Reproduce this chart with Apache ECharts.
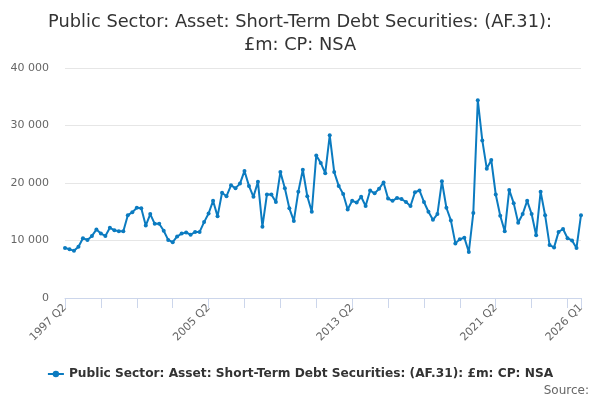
<!DOCTYPE html>
<html>
<head>
<meta charset="utf-8">
<script src="https://cdn.jsdelivr.net/npm/echarts@6/dist/echarts.min.js"></script>
<style>
html,body{margin:0;padding:0;background:#fff;}
#chart{width:600px;height:400px;}
</style>
</head>
<body>
<div id="chart"></div>
<script>
// Categories: quarters from 1997 Q2 to 2026 Q1
const categories = [];
(function(){
  let y = 1997, q = 2;
  while (!(y === 2026 && q === 2)) {
    categories.push(y + ' Q' + q);
    q++; if (q > 4) { q = 1; y++; }
  }
})();

const seriesName = 'Public Sector: Asset: Short-Term Debt Securities: (AF.31): £m: CP: NSA';

const values = [
  8700, 8500, 8200, 8900, 10400, 10100, 10800, 11900, 11200, 10800,
  12200, 11800, 11600, 11600, 14400, 14900, 15700, 15600, 12600, 14600,
  12900, 12900, 11700, 10100, 9700, 10700, 11200, 11400, 11000, 11500,
  11500, 13200, 14700, 16900, 14200, 18300, 17700, 19600, 19100, 19900,
  22100, 19500, 17600, 20200, 12400, 18000, 18000, 16700, 21900, 19100,
  15600, 13400, 18500, 22300, 17700, 15000, 24800, 23500, 21700, 28300,
  21900, 19500, 18100, 15400, 16900, 16600, 17600, 16000, 18700, 18200,
  19000, 20100, 17300, 16900, 17400, 17200, 16700, 16000, 18400, 18700,
  16700, 15000, 13600, 14600, 20300, 15700, 13500, 9500, 10200, 10500,
  8000, 14800, 34400, 27400, 22500, 24000, 18000, 14300, 11600, 18800,
  16500, 13100, 14600, 16900, 14600, 10900, 18500, 14400, 9200, 8800,
  11500, 12000, 10400, 10000, 8700, 14400
];

const yTicks = [0, 10000, 20000, 30000, 40000];
const xLabelTicks = ['1997 Q2', '2005 Q2', '2013 Q2', '2021 Q2', '2026 Q1'];

const chart = echarts.init(document.getElementById('chart'), null, {renderer: 'canvas'});
const lastIdx = categories.length - 1;
chart.setOption({
  animation: false,
  textStyle: {fontFamily: 'DejaVu Sans'},
  title: {
    text: 'Public Sector: Asset: Short-Term Debt Securities: (AF.31):\n£m: CP: NSA',
    left: 'center',
    top: 6,
    textStyle: {fontFamily: 'DejaVu Sans', fontSize: 17.8, fontWeight: 'normal', color: '#333333', lineHeight: 23}
  },
  graphic: [{
    type: 'text',
    right: 11,
    top: 385,
    style: {text: 'Source:', fill: '#666666', font: '12px "DejaVu Sans"'}
  }],
  legend: {
    data: [seriesName],
    bottom: 15,
    left: 'center',
    itemWidth: 16,
    itemHeight: 8,
    itemGap: 5,
    textStyle: {fontFamily: 'DejaVu Sans', fontSize: 12.2, fontWeight: 'bold', color: '#333333'}
  },
  grid: {left: 65, right: 19, top: 68, bottom: 102, containLabel: false},
  xAxis: {
    type: 'category',
    data: categories,
    boundaryGap: false,
    axisLine: {lineStyle: {color: '#ccd6eb'}},
    axisTick: {
      length: 10,
      lineStyle: {color: '#ccd6eb'},
      interval: function (i) { return i % 8 === 0 || i === lastIdx; }
    },
    axisLabel: {
      rotate: 45,
      color: '#666666',
      fontSize: 11,
      fontFamily: 'DejaVu Sans',
      margin: 8,
      interval: function (i, v) { return xLabelTicks.indexOf(v) !== -1; }
    },
    splitLine: {show: false}
  },
  yAxis: {
    type: 'value',
    min: 0,
    max: 40000,
    interval: 10000,
    axisLine: {show: false},
    axisTick: {show: false},
    axisLabel: {
      color: '#666666',
      fontSize: 11,
      fontFamily: 'DejaVu Sans',
      margin: 16,
      formatter: function (v) { return yTicks.indexOf(v) !== -1 ? String(v).replace(/\B(?=(\d{3})+(?!\d))/g, ' ') : ''; }
    },
    splitLine: {lineStyle: {color: '#e6e6e6'}}
  },
  series: [{
    name: seriesName,
    type: 'line',
    data: values,
    symbol: 'circle',
    symbolSize: 4,
    showSymbol: true,
    showAllSymbol: true,
    itemStyle: {color: '#0b7bc0'},
    lineStyle: {width: 2, color: '#0b7bc0'}
  }]
});
</script>
</body>
</html>
